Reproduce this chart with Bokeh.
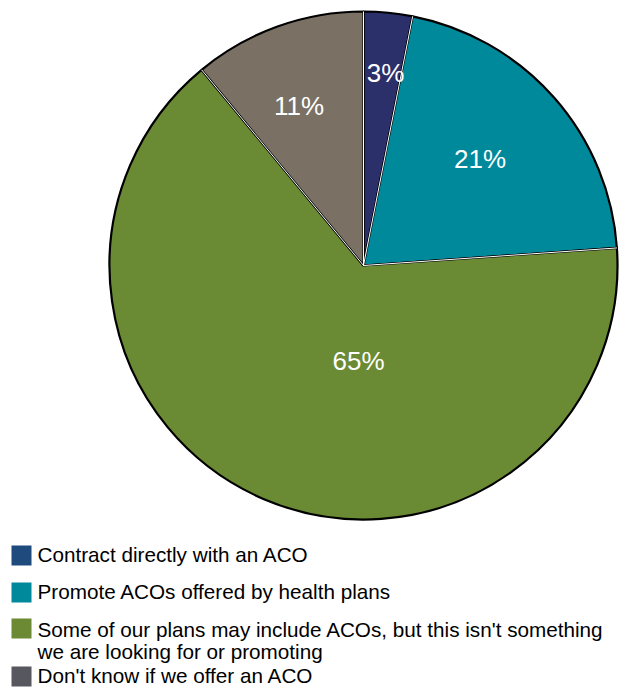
import math
from bokeh.plotting import figure
from bokeh.models import Range1d
from bokeh.core.properties import value
from bokeh.embed import file_html
from bokeh.resources import INLINE

# ---- data ----
categories = [
    "Contract directly with an ACO",
    "Promote ACOs offered by health plans",
    "Some of our plans may include ACOs, but this isn't something|we are looking for or promoting",
    "Don't know if we offer an ACO",
]
shares = [3.1, 20.8, 65.1, 11.0]
pct_labels = ["3%", "21%", "65%", "11%"]

# ---- style ----
slice_colors = ["#2b2f6a", "#00889b", "#6a8a33", "#7a7064"]
legend_colors = ["#1e4a7e", "#00899a", "#6b8a33", "#56575f"]
label_deg = [6.5, 47.5, 183.0, 338.0]
label_r = [194, 158, 96, 172]

W, H = 619, 687
p = figure(width=W, height=H, x_range=Range1d(0, W), y_range=Range1d(0, H),
           output_backend="svg", toolbar_location=None, min_border=0,
           min_border_left=0, min_border_right=0, min_border_top=0, min_border_bottom=0)
p.axis.visible = False
p.grid.visible = False
p.outline_line_color = None
p.background_fill_color = "white"
p.border_fill_color = "white"

def sy(y):
    return H - y

cx, cy, R = 363, sy(265), 254
total = sum(shares)
cum = [0.0]
for s in shares:
    cum.append(cum[-1] + s / total)

starts = [math.pi / 2 - 2 * math.pi * cum[i + 1] for i in range(len(shares))]
ends = [math.pi / 2 - 2 * math.pi * cum[i] for i in range(len(shares))]

p.wedge(x=[cx] * len(shares), y=[cy] * len(shares), radius=R,
        start_angle=starts, end_angle=ends, direction="anticlock",
        fill_color=slice_colors, line_color="black", line_width=2.2)

# white separator lines between slices
bx0, by0, bx1, by1 = [], [], [], []
for c in cum[:-1]:
    a = math.pi / 2 - 2 * math.pi * c
    bx0.append(cx); by0.append(cy)
    bx1.append(cx + R * math.cos(a)); by1.append(cy + R * math.sin(a))
p.segment(x0=bx0, y0=by0, x1=bx1, y1=by1, line_color="white", line_width=1)

# percentage labels
lx, ly = [], []
for d, r in zip(label_deg, label_r):
    a = math.radians(d)
    lx.append(cx + r * math.sin(a))
    ly.append(cy + r * math.cos(a))
p.text(x=lx, y=ly, text=pct_labels, text_color="white",
       text_font=value("Liberation Sans"), text_font_size="26px",
       text_align="center", text_baseline="middle")

# legend
sq_top = [545, 582, 618, 666]
base_rows = [[554], [591], [629], [675]]
line2_base = 651
sq = 20
p.rect(x=[11 + sq / 2] * 4, y=[sy(t + sq / 2) for t in sq_top], width=sq, height=sq,
       fill_color=legend_colors, line_color=None)
tx, ty, tt = [], [], []
for cat, bases in zip(categories, base_rows):
    lines = cat.split("|")
    ys = bases + [line2_base] * (len(lines) - 1)
    for line, b in zip(lines, ys):
        tx.append(37); ty.append(sy(b)); tt.append(line)
p.text(x=tx, y=ty, text=tt, text_color="#000000",
       text_font=value("Liberation Sans"), text_font_size="20.7px",
       text_align="left", text_baseline="alphabetic")

open("out.html", "w").write(file_html(p, INLINE))
